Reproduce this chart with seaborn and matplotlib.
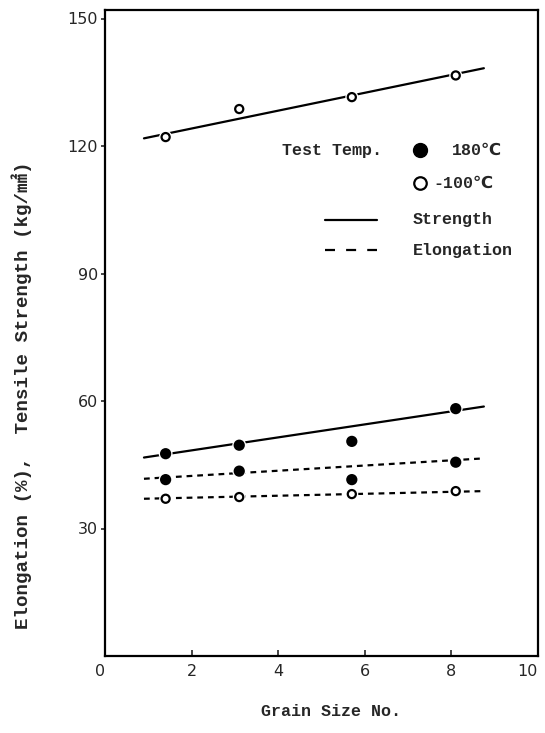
import matplotlib
matplotlib.use("Agg")
import matplotlib.pyplot as plt
import matplotlib.patheffects as pe
from matplotlib import font_manager
from matplotlib.lines import Line2D
import numpy as np
import pandas as pd
import seaborn as sns

# ---- data -------------------------------------------------------------
grain_size = [1.4, 3.1, 5.7, 8.1]

strength_m100 = [122.1, 128.7, 131.5, 136.6]    # tensile strength, -100 C
strength_180 = [47.6, 49.6, 50.5, 58.2]         # tensile strength, 180 C
elong_180 = [41.5, 43.5, 41.5, 45.6]            # elongation, 180 C
elong_m100 = [37.0, 37.4, 38.1, 38.8]           # elongation, -100 C

# fitted trend lines: (start, end) over grain size range
fit_x = [0.9, 8.75]
fit_strength_m100 = [121.8, 138.3]
fit_strength_180 = [46.7, 58.7]
fit_elong_180 = [41.7, 46.5]
fit_elong_m100 = [37.0, 38.8]

x_ticks = [0, 2, 4, 6, 8, 10]
y_ticks = [30, 60, 90, 120, 150]

# ---- style ------------------------------------------------------------
sns.set_style("white")
installed = {f.name for f in font_manager.fontManager.ttflist}
narrow = "Liberation Sans Narrow" if "Liberation Sans Narrow" in installed else "DejaVu Sans"
num_size = 14 if narrow != "DejaVu Sans" else 11.5
text_family = ["Liberation Mono", "DejaVu Sans", "Noto Sans CJK JP"]
plt.rcParams["font.family"] = text_family

fig = plt.figure(figsize=(5.45, 7.33), dpi=100)
ax = fig.add_axes([105 / 545, 1 - 656 / 733, 433 / 545, 646 / 733])

pts = pd.DataFrame({
    "grain": grain_size * 4,
    "value": strength_m100 + strength_180 + elong_180 + elong_m100,
    "temp": ["-100"] * 4 + ["180"] * 4 + ["180"] * 4 + ["-100"] * 4,
    "kind": ["S"] * 8 + ["E"] * 8,
    "series": ["sm"] * 4 + ["s180"] * 4 + ["e180"] * 4 + ["em"] * 4,
})
fits = pd.DataFrame({
    "grain": fit_x * 4,
    "value": fit_strength_m100 + fit_strength_180 + fit_elong_180 + fit_elong_m100,
    "series": ["sm"] * 2 + ["s180"] * 2 + ["e180"] * 2 + ["em"] * 2,
    "kind": ["S"] * 4 + ["E"] * 4,
})

# trend lines
for name, grp in fits.groupby("series", sort=False):
    ls = "-" if grp["kind"].iloc[0] == "S" else (0, (2.6, 2.2))
    sns.lineplot(data=grp, x="grain", y="value", ax=ax, color="black",
                 linewidth=1.6, linestyle=ls, legend=False)

# measured points, with a white halo so lines break around markers
halo = [pe.withStroke(linewidth=3.5, foreground="white")]
for temp, face, size in [("180", "black", 42), ("-100", "white", 34)]:
    sub = pts[pts["temp"] == temp]
    sns.scatterplot(data=sub, x="grain", y="value", ax=ax, s=size,
                    color=face, edgecolor="black", linewidth=1.6,
                    legend=False, zorder=5)
for coll in ax.collections:
    coll.set_path_effects(halo)

# ---- axes -------------------------------------------------------------
ax.set_xlim(0, 10)
ax.set_ylim(0, 152)
ax.set_xticks(x_ticks)
ax.set_yticks(y_ticks)
ax.set_xticklabels([str(v) for v in x_ticks], family=narrow, size=num_size)
ax.set_yticklabels([str(v) for v in y_ticks], family=narrow, size=num_size)
ax.get_xticklabels()[-1].set_horizontalalignment("right")
ax.get_xticklabels()[0].set_horizontalalignment("right")
ax.tick_params(axis="x", direction="in", length=4, width=1.2, pad=6)
ax.tick_params(axis="y", direction="out", length=3, width=1.2, pad=2)
ax.xaxis.set_ticks_position("bottom")
ax.yaxis.set_ticks_position("left")
for sp in ax.spines.values():
    sp.set_visible(True)
    sp.set_color("black")
    sp.set_linewidth(1.6)
ax.set_xlabel("")
ax.set_ylabel("")

fig.text(331 / 545, 1 - 712 / 733, "Grain Size No.", ha="center", va="center",
         fontsize=12, fontweight="bold", family=text_family)
fig.text(22 / 545, 1 - 395 / 733, "Elongation (%),  Tensile Strength (kg/\u339f)",
         rotation=90, ha="center", va="center", fontsize=13.8, fontweight="bold",
         family=text_family)

# ---- key --------------------------------------------------------------
tr = ax.transAxes
kw = dict(transform=tr, va="center", ha="left", fontsize=12, fontweight="bold",
          family=text_family)
ax.text(0.409, 0.783, "Test Temp.", **kw)
ax.add_line(Line2D([0.727], [0.783], transform=tr, marker="o", ms=10,
                   mfc="black", mec="black", ls="none"))
ax.text(0.801, 0.783, "180\u2103", **kw)
ax.add_line(Line2D([0.727], [0.732], transform=tr, marker="o", ms=9,
                   mfc="white", mec="black", mew=1.6, ls="none"))
ax.text(0.758, 0.732, "-100\u2103", **kw)
ax.add_line(Line2D([0.508, 0.628], [0.675, 0.675], transform=tr,
                   color="black", lw=1.6))
ax.text(0.711, 0.675, "Strength", **kw)
ax.add_line(Line2D([0.508, 0.628], [0.628, 0.628], transform=tr,
                   color="black", lw=1.6, ls=(0, (4.5, 5))))
ax.text(0.711, 0.628, "Elongation", **kw)

fig.savefig("out.png", dpi=100)
